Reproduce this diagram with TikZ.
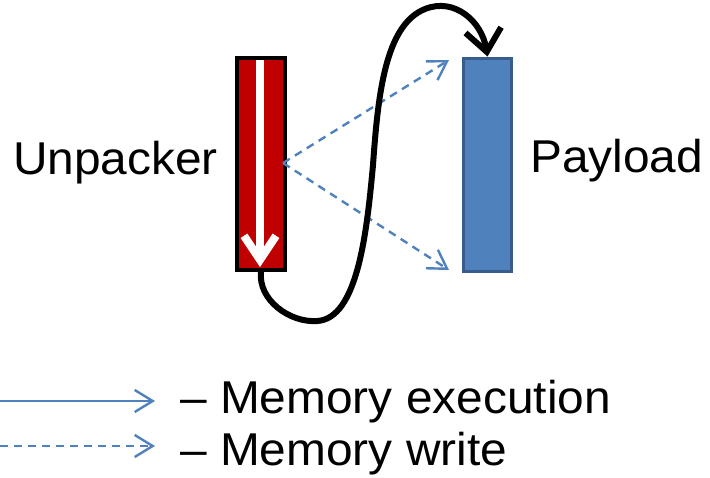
\documentclass[tikz,border=0pt]{standalone}
\usepackage{fontspec}
\setmainfont{Liberation Sans}[FakeStretch=1.04]
\usetikzlibrary{arrows.meta}
\definecolor{redfill}{HTML}{C00000}
\definecolor{bluefill}{HTML}{4F81BD}
\definecolor{blueedge}{HTML}{385D8A}
\tikzset{
  bluetip/.style={-{Straight Barb[length=18pt,width=22pt]}},
  bigtext/.style={font=\fontsize{46}{55}\selectfont, inner sep=0pt},
  writearrow/.style={bluefill, line width=2.4pt, dash pattern=on 8pt off 6pt, bluetip},
  execarrow/.style={bluefill, line width=2.4pt, bluetip},
}
\begin{document}
\begin{tikzpicture}[x=1pt,y=-1pt]
\useasboundingbox (0,0) rectangle (710,477);
% boxes
\node[draw=black, line width=4pt, fill=redfill, minimum width=48pt, minimum height=212pt, inner sep=0pt] (unp) at (261,164) {};
\node[draw=blueedge, line width=3pt, fill=bluefill, minimum width=48pt, minimum height=213pt, inner sep=0pt] (pay) at (487.5,164.5) {};
% labels
\node[bigtext, anchor=east] (unplabel) at (218,163) {Unpacker};
\node[bigtext, anchor=west] (paylabel) at (530,161) {Payload};
% white execution arrow inside unpacker
\coordinate (wtop) at (260,60);
\coordinate (wbot) at (260,267);
\draw[white, line width=8pt, -{Straight Barb[length=24pt,width=32pt]}] (wtop) -- (wbot);
% write arrows
\coordinate (src) at (283,163);
\coordinate (t1) at (449,60);
\coordinate (t2) at (449,270);
\draw[writearrow] (src) -- (t1);
\draw[writearrow] (src) -- (t2);
% black jump curve
\coordinate (c1) at (317,321);
\coordinate (c2) at (373,165);
\coordinate (c3) at (425,9);
\draw[black, line width=6pt, line cap=round, -{Straight Barb[length=22pt,width=36pt]}]
  (unp.south) .. controls (258,300) and (290,323) .. (c1)
  .. controls (358,319) and (367,230) .. (c2)
  .. controls (378,95) and (385,25) .. (c3)
  .. controls (455,-3) and (482,22) .. (pay.north);
% legend
\coordinate (l1a) at (0,401);
\coordinate (l1b) at (155,401);
\coordinate (l2a) at (0,446);
\coordinate (l2b) at (155,446);
\draw[execarrow] (l1a) -- (l1b);
\draw[writearrow] (l2a) -- (l2b);
\node[bigtext, anchor=west] (leg1) at (180,402) {– Memory execution};
\node[bigtext, anchor=west] (leg2) at (180,454) {– Memory write};
\end{tikzpicture}
\end{document}
